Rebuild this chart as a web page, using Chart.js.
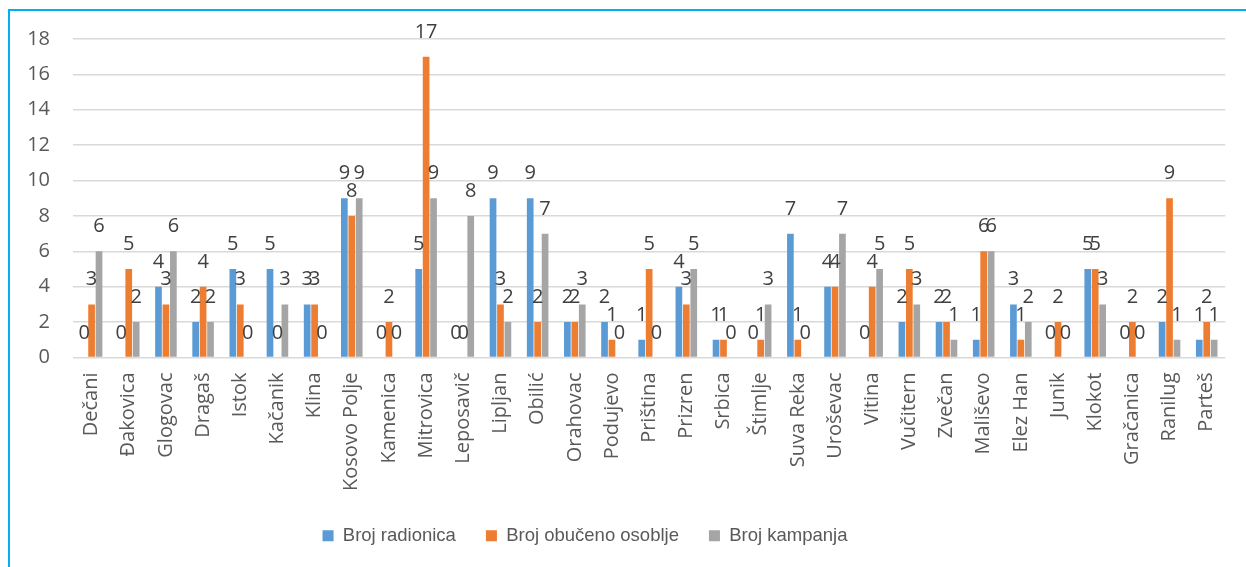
<!DOCTYPE html>
<html>
<head>
<meta charset="utf-8">
<script src="https://cdn.jsdelivr.net/npm/chart.js@4.4.0/dist/chart.umd.min.js"></script>
<style>
  html, body { margin: 0; padding: 0; background: #fff; overflow: hidden; }
  #frame { position: absolute; left: 8px; top: 9px; width: 1400px; height: 700px; border: 2px solid #00b0f0; }
  #chart { position: absolute; left: 0; top: 0; }
</style>
</head>
<body>
<div id="frame"></div>
<canvas id="chart" width="1246" height="567"></canvas>
<script>
// ===================== DATA =====================
const opstine = [
  "Dečani", "Đakovica", "Glogovac", "Dragaš", "Istok", "Kačanik", "Klina",
  "Kosovo Polje", "Kamenica", "Mitrovica", "Leposavič", "Lipljan", "Obilić",
  "Orahovac", "Podujevo", "Priština", "Prizren", "Srbica", "Štimlje",
  "Suva Reka", "Uroševac", "Vitina", "Vučitern", "Zvečan", "Mališevo",
  "Elez Han", "Junik", "Klokot", "Gračanica", "Ranilug", "Parteš"
];

const brojRadionica = [0, 0, 4, 2, 5, 5, 3, 9, 0, 5, 0, 9, 9, 2, 2, 1, 4, 1, 0, 7, 4, 0, 2, 2, 1, 3, 0, 5, 0, 2, 1];
const brojObuceno   = [3, 5, 3, 4, 3, 0, 3, 8, 2, 17, 0, 3, 2, 2, 1, 5, 3, 1, 1, 1, 4, 4, 5, 2, 6, 1, 2, 5, 2, 9, 2];
const brojKampanja  = [6, 2, 6, 2, 0, 3, 0, 9, 0, 9, 8, 2, 7, 3, 0, 0, 5, 0, 3, 0, 7, 5, 3, 1, 6, 2, 0, 3, 0, 1, 1];

const seriesNames = ["Broj radionica", "Broj obučeno osoblje", "Broj kampanja"];
const yMax = 18;
const yStep = 2;

// ===================== PLUGINS =====================
// vrijednosti iznad stupaca
const valueLabels = {
  id: "valueLabels",
  afterDatasetsDraw(chart) {
    const ctx = chart.ctx;
    ctx.save();
    ctx.font = "20px 'Open Sans'";
    ctx.fillStyle = "#404040";
    ctx.textAlign = "center";
    ctx.textBaseline = "alphabetic";
    chart.data.datasets.forEach((ds, i) => {
      chart.getDatasetMeta(i).data.forEach((bar, j) => {
        ctx.fillText(String(ds.data[j]), bar.x, bar.y - 19);
      });
    });
    ctx.restore();
  }
};

// legenda malo lijevo od sredine (kao u Excelu)
const legendShift = {
  id: "legendShift",
  afterLayout(chart) {
    if (chart.legend) chart.legend.right -= 58;
  }
};

// ===================== CHART =====================
const ctx = document.getElementById("chart").getContext("2d");

new Chart(ctx, {
  type: "bar",
  data: {
    labels: opstine,
    datasets: [
      { label: seriesNames[0], data: brojRadionica, backgroundColor: "#5b9bd5" },
      { label: seriesNames[1], data: brojObuceno, backgroundColor: "#ed7d31" },
      { label: seriesNames[2], data: brojKampanja, backgroundColor: "#a5a5a5" }
    ]
  },
  options: {
    responsive: false,
    animation: false,
    layout: { padding: { top: 39, right: 18, bottom: 12, left: 0 } },
    datasets: { bar: { categoryPercentage: 0.6, barPercentage: 0.9 } },
    scales: {
      x: {
        grid: { display: false, drawTicks: false },
        border: { display: false },
        ticks: {
          minRotation: 90,
          maxRotation: 90,
          autoSkip: false,
          padding: 15,
          color: "#595959",
          font: { family: "'Open Sans'", size: 20 }
        },
        afterFit(s) { s.height = 139; }
      },
      y: {
        min: 0,
        max: yMax,
        grid: { color: "#d9d9d9", lineWidth: 1.5, drawTicks: false },
        border: { display: false },
        ticks: {
          stepSize: yStep,
          padding: 23,
          color: "#595959",
          font: { family: "'Open Sans'", size: 20 }
        },
        afterFit(s) { s.width = 73; }
      }
    },
    plugins: {
      tooltip: { enabled: false },
      legend: {
        position: "bottom",
        labels: {
          boxWidth: 11,
          boxHeight: 11,
          padding: 30,
          color: "#595959",
          font: { family: "'Liberation Sans'", size: 18.5 }
        }
      }
    }
  },
  plugins: [valueLabels, legendShift]
});
</script>
</body>
</html>
